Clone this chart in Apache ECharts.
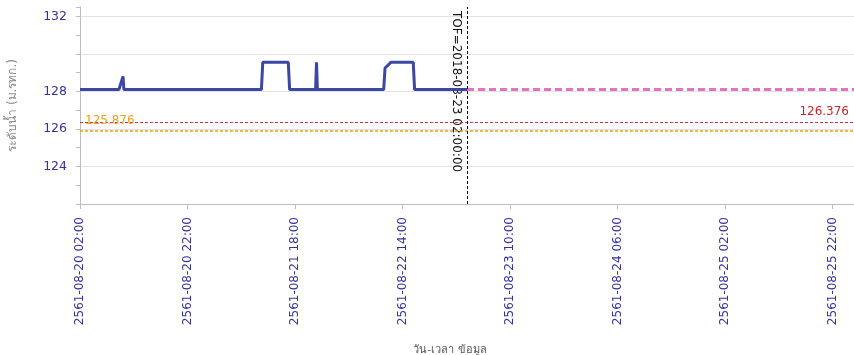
<!DOCTYPE html>
<html><head><meta charset="utf-8">
<script src="https://cdn.jsdelivr.net/npm/echarts@6/dist/echarts.min.js"></script>
<style>html,body{margin:0;padding:0;background:#fff}#c{width:854px;height:355px}</style>
</head><body><div id="c"></div>
<script>
// ---- data ----
const axisStart = '2018-08-20 02:00';
const axisEnd = '2018-08-26 02:00';
const xTickStepHours = 20;
const obsTimes = [
  '2018-08-20 02:00','2018-08-20 09:15','2018-08-20 10:00','2018-08-20 10:10',
  '2018-08-21 11:45','2018-08-21 12:00','2018-08-21 16:45','2018-08-21 17:00',
  '2018-08-21 21:50','2018-08-21 22:00','2018-08-21 22:10',
  '2018-08-22 10:30','2018-08-22 10:45','2018-08-22 11:50','2018-08-22 16:00','2018-08-22 16:15',
  '2018-08-23 02:00'
];
const obsValues = [
  128.1,128.1,128.8,128.1,
  128.1,129.55,129.55,128.1,
  128.1,129.55,128.1,
  128.1,129.25,129.55,129.55,128.1,
  128.1
];
const fcTimes = ['2018-08-23 02:00','2018-08-26 02:00'];
const fcValues = [128.1,128.1];
const thresholdRed = 126.376;
const thresholdOrange = 125.876;
const tofTime = '2018-08-23 02:00:00';
const yShownLabels = [124,126,128,132];
const yAxisName = 'ระดับน้ำ (ม.รทก.)';
const xAxisName = 'วัน-เวลา ข้อมูล';

// ---- helpers ----
function parseT(s){const m=s.match(/(\d+)-(\d+)-(\d+) (\d+):(\d+)/);return Date.UTC(+m[1],+m[2]-1,+m[3],+m[4],+m[5]);}
const t0 = parseT(axisStart);
const toH = s => (parseT(s)-t0)/3600000;
const p2 = n => String(n).padStart(2,'0');
function fmtThai(h){const d=new Date(t0+h*3600000);return (d.getUTCFullYear()+543)+'-'+p2(d.getUTCMonth()+1)+'-'+p2(d.getUTCDate())+' '+p2(d.getUTCHours())+':'+p2(d.getUTCMinutes());}
const obsData = obsTimes.map((t,i)=>[toH(t),obsValues[i]]);
const fcData = fcTimes.map((t,i)=>[toH(t),fcValues[i]]);
const tofH = toH(tofTime);

const FONT = 'DejaVu Sans';
function refLine(item, color, width, label){
  return {type:'line',data:[],silent:true,
    markLine:{silent:true,symbol:['none','none'],animation:false,
      lineStyle:{color:color,type:[3,2],width:width},
      label:label,
      data:[item]}};
}
const chart = echarts.init(document.getElementById('c'));
chart.setOption({
  animation:false,
  textStyle:{fontFamily:FONT},
  grid:{left:80,right:0,top:7,bottom:151,outerBoundsMode:'none',containLabel:false},
  xAxis:{type:'value',min:0,max:toH(axisEnd),interval:xTickStepHours,
    axisLine:{show:true,lineStyle:{color:'#bdbdbd'}},
    axisTick:{show:true,length:5,lineStyle:{color:'#bdbdbd'}},
    splitLine:{show:false},
    axisLabel:{rotate:90,color:'#33339a',fontSize:12,margin:13,showMaxLabel:false,
      formatter:v=> (v%xTickStepHours===0)?fmtThai(v):''},
    name:xAxisName,nameLocation:'middle',nameGap:141,
    nameTextStyle:{color:'#555',fontSize:11,padding:[0,34,0,0]}
  },
  yAxis:{type:'value',min:122,max:132.5,interval:2,
    axisLine:{show:true,lineStyle:{color:'#bdbdbd'}},
    axisTick:{show:true,length:4,lineStyle:{color:'#bdbdbd'}},
    minorTick:{show:true,splitNumber:2,length:4,lineStyle:{color:'#bdbdbd'}},
    splitLine:{show:true,showMaxLine:false,lineStyle:{color:'#e3e3e3'}},
    axisLabel:{color:'#33339a',fontSize:12.5,margin:13,formatter:v=>yShownLabels.includes(v)?String(v):''},
    name:yAxisName,nameLocation:'middle',nameGap:61,
    nameTextStyle:{color:'#888',fontSize:12}
  },
  series:[
    refLine({yAxis:thresholdRed}, '#d0333c', 1.2,
      {show:true,position:'insideEndTop',formatter:String(thresholdRed),color:'#c0282d',fontSize:12,distance:[5,4]}),
    refLine({yAxis:thresholdOrange}, '#ee9d1e', 1.5,
      {show:true,position:'insideStartTop',formatter:String(thresholdOrange),color:'#eba21c',fontSize:12,distance:[5,4]}),
    refLine({xAxis:tofH}, '#000000', 1, {show:false}),
    {type:'line',data:fcData,showSymbol:false,symbol:'none',
      lineStyle:{color:'#e274bd',width:3,type:[7,4]},z:2},
    {type:'line',data:obsData,showSymbol:false,symbol:'none',
      lineStyle:{color:'#3b47a2',width:3},z:3}
  ]
});
const px = chart.convertToPixel({xAxisIndex:0}, tofH);
chart.setOption({graphic:[{type:'text',x:px-11,y:11,rotation:-Math.PI/2,silent:true,
  style:{text:'TOF='+tofTime,font:'12px '+FONT,fill:'#111',align:'left',verticalAlign:'middle'}}]});
</script>
</body></html>
